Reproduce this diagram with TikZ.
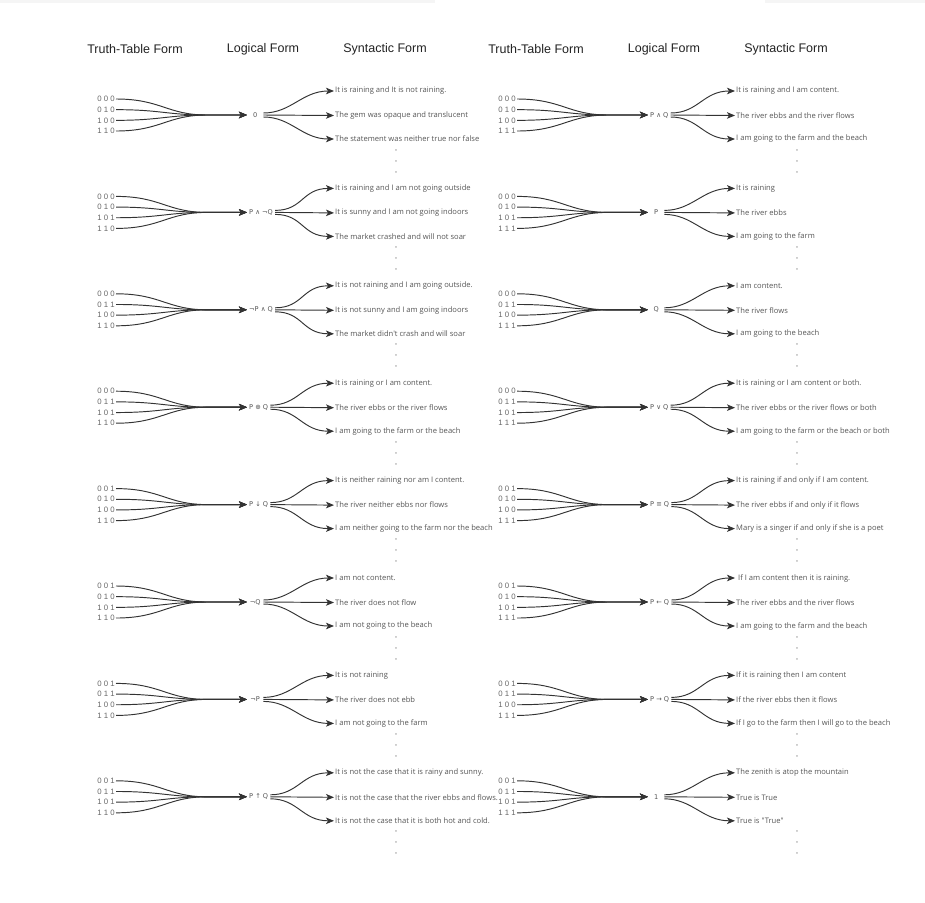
\documentclass[tikz,border=0pt]{standalone}
\usepackage{fontspec}
\usetikzlibrary{arrows.meta,calc}
\newfontfamily\synfont[Ligatures=TeXOff]{Open Sans}
\newfontfamily\hdfont{Liberation Sans}
\newfontfamily\lgfont{DejaVu Sans}
\definecolor{ink}{HTML}{333333}
\definecolor{txt}{HTML}{555555}
\definecolor{rowc}{HTML}{666666}
\definecolor{hdc}{HTML}{222222}
\tikzset{
 conn/.style={draw=ink, line width=0.95pt, -{Stealth[length=8pt,width=6.5pt,inset=2pt]}},
 rowlbl/.style={anchor=east, inner sep=1pt, text=rowc, font=\hdfont\fontsize{7.8}{8}\selectfont},
 logic/.style={anchor=west, inner xsep=2pt, inner ysep=1pt, minimum width=16pt, text=txt, font=\lgfont\fontsize{6.6}{8}\selectfont},
 syn/.style={anchor=west, inner sep=1pt, text=txt, font=\synfont\fontsize{7.6}{9}\selectfont},
 dotlbl/.style={inner sep=0pt, text=txt, font=\synfont\fontsize{7.6}{9}\selectfont},
 header/.style={text=hdc, font=\hdfont\fontsize{12.5}{14}\selectfont},
 topbar/.style={fill=black!4, draw=none},
}
\newcommand\logicblock[8]{%
 \begin{scope}[shift={(#2,-#3)}]
  \node[logic] (#1-l) at (247,0) {#5};
  \coordinate (#1-m) at (207,0);
  \foreach \r [count=\i] in {#4} {
   \node[rowlbl] (#1-r\i) at (116,{16-(\i-1)*10.67}) {\r};
   \draw[conn] (#1-r\i.east) .. controls ($(#1-r\i.east)+(45,0)$) and ($(#1-m)+(-40,0)$) .. (#1-m) -- (#1-l.west);
  }
  \node[syn] (#1-t1) at (334,24) {#6};
  \node[syn] (#1-t2) at (334,-0.5) {#7};
  \node[syn] (#1-t3) at (334,-24) {#8};
  \node[dotlbl] (#1-d1) at (396,-36) {-};
  \node[dotlbl] (#1-d2) at (396,-47) {-};
  \node[dotlbl] (#1-d3) at (396,-58) {-};
  \draw[conn] ($(#1-l.east)+(0,2)$) .. controls ($(#1-l.east)+(28,2)$) and ($(#1-t1.west)+(-32,0)$) .. (#1-t1.west);
  \draw[conn] (#1-l.east) -- (#1-t2.west);
  \draw[conn] ($(#1-l.east)+(0,-2)$) .. controls ($(#1-l.east)+(28,-2)$) and ($(#1-t3.west)+(-32,0)$) .. (#1-t3.west);
 \end{scope}}
\begin{document}
\begin{tikzpicture}[x=1pt,y=1pt]
\useasboundingbox (0,0) rectangle (925,-902);
\fill[topbar] (0,0) rectangle (435,-3);
\fill[topbar] (765,0) rectangle (925,-3);
\node[header] (h1) at (135,-49.5) {Truth-Table Form};
\node[header] (h2) at (263,-49.5) {Logical Form};
\node[header] (h3) at (385,-49.5) {Syntactic Form};
\node[header] (h4) at (536,-49.5) {Truth-Table Form};
\node[header] (h5) at (664,-49.5) {Logical Form};
\node[header] (h6) at (786,-49.5) {Syntactic Form};
% left column
\logicblock{a1}{0}{115}{0 0 0,0 1 0,1 0 0,1 1 0}{0}{It is raining and It is not raining.}{The gem was opaque and translucent}{The statement was neither true nor false}
\logicblock{a2}{0}{212.4}{0 0 0,0 1 0,1 0 1,1 1 0}{P ∧ ¬Q}{It is raining and I am not going outside}{It is sunny and I am not going indoors}{The market crashed and will not soar}
\logicblock{a3}{0}{309.8}{0 0 0,0 1 1,1 0 0,1 1 0}{¬P ∧ Q}{It is not raining and I am going outside.}{It is not sunny and I am going indoors}{The market didn't crash and will soar}
\logicblock{a4}{0}{407.2}{0 0 0,0 1 1,1 0 1,1 1 0}{P ⊕ Q}{It is raining or I am content.}{The river ebbs or the river flows}{I am going to the farm or the beach}
\logicblock{a5}{0}{504.6}{0 0 1,0 1 0,1 0 0,1 1 0}{P ↓ Q}{It is neither raining nor am I content.}{The river neither ebbs nor flows}{I am neither going to the farm nor the beach}
\logicblock{a6}{0}{602}{0 0 1,0 1 0,1 0 1,1 1 0}{¬Q}{I am not content.}{The river does not flow}{I am not going to the beach}
\logicblock{a7}{0}{699.4}{0 0 1,0 1 1,1 0 0,1 1 0}{¬P}{It is not raining}{The river does not ebb}{I am not going to the farm}
\logicblock{a8}{0}{796.8}{0 0 1,0 1 1,1 0 1,1 1 0}{P ↑ Q}{It is not the case that it is rainy and sunny.}{It is not the case that the river ebbs and flows.}{It is not the case that it is both hot and cold.}
% right column
\logicblock{b1}{401}{115}{0 0 0,0 1 0,1 0 0,1 1 1}{P ∧ Q}{It is raining and I am content.}{The river ebbs and the river flows}{I am going to the farm and the beach}
\logicblock{b2}{401}{212.4}{0 0 0,0 1 0,1 0 1,1 1 1}{P}{It is raining}{The river ebbs}{I am going to the farm}
\logicblock{b3}{401}{309.8}{0 0 0,0 1 1,1 0 0,1 1 1}{Q}{I am content.}{The river flows}{I am going to the beach}
\logicblock{b4}{401}{407.2}{0 0 0,0 1 1,1 0 1,1 1 1}{P ∨ Q}{It is raining or I am content or both.}{The river ebbs or the river flows or both}{I am going to the farm or the beach or both}
\logicblock{b5}{401}{504.6}{0 0 1,0 1 0,1 0 0,1 1 1}{P ≡ Q}{It is raining if and only if I am content.}{The river ebbs if and only if it flows}{Mary is a singer if and only if she is a poet}
\logicblock{b6}{401}{602}{0 0 1,0 1 0,1 0 1,1 1 1}{P ← Q}{\ If I am content then it is raining.}{The river ebbs and the river flows}{I am going to the farm and the beach}
\logicblock{b7}{401}{699.4}{0 0 1,0 1 1,1 0 0,1 1 1}{P → Q}{If it is raining then I am content}{If the river ebbs then it flows}{If I go to the farm then I will go to the beach}
\logicblock{b8}{401}{796.8}{0 0 1,0 1 1,1 0 1,1 1 1}{1}{The zenith is atop the mountain}{True is True}{True is "True"}
\end{tikzpicture}
\end{document}
